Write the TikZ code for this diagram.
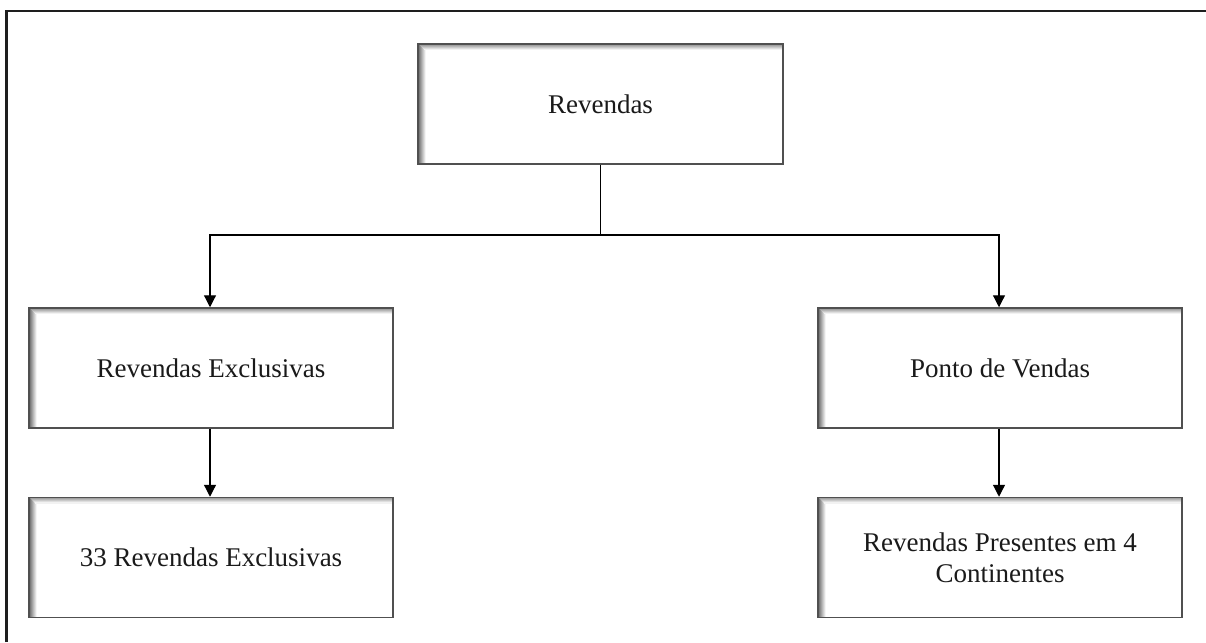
\documentclass[tikz,border=0pt]{standalone}
\usepackage{fontspec}
\setmainfont{Liberation Serif}
\usetikzlibrary{arrows.meta}

\definecolor{framecol}{HTML}{1E1E1E}
\definecolor{boxline}{HTML}{505050}
\definecolor{inkcol}{HTML}{1A1A1A}

\tikzset{
  orgbox/.style={
    draw=boxline, line width=1.5pt, fill=white,
    minimum width=364pt, minimum height=120pt, inner sep=0pt,
    align=center, text=inkcol,
    font=\fontsize{27}{31}\selectfont,
    % soft inset shadow along the left and top inner edges
    path picture={
      \foreach \k in {0,...,7}{
        \pgfmathsetmacro{\shadeamt}{60-\k*8}
        \draw[draw=black!\shadeamt, line width=1.05pt]
          ([xshift=\k pt+0.5pt]path picture bounding box.north west) --
          ([xshift=\k pt+0.5pt]path picture bounding box.south west);
      }
      \foreach \k in {0,...,5}{
        \pgfmathsetmacro{\shadeamt}{45-\k*8}
        \draw[draw=black!\shadeamt, line width=1.05pt]
          ([xshift=\k pt+0.5pt,yshift=-\k pt-0.5pt]path picture bounding box.north west) --
          ([yshift=-\k pt-0.5pt]path picture bounding box.north east);
      }
    }
  },
  link/.style={draw=black, line width=1.2pt},
  linkarrow/.style={link, -{Triangle[width=12pt,length=12pt]}}
}

\begin{document}
\begin{tikzpicture}[x=1pt,y=-1pt]
  \useasboundingbox (0,0) rectangle (1206,642);
  \fill[white] (0,0) rectangle (1206,642);

  % page frame: only top and left edges are visible
  \draw[framecol, line width=2.2pt] (6.5,642) -- (6.5,11) -- (1206,11);

  % boxes
  \node[orgbox, minimum width=365pt] (top) at (600.5,104) {Revendas};
  \node[orgbox] (lm) at (211,368) {Revendas Exclusivas};
  \node[orgbox] (rm) at (1000,368) {Ponto de Vendas};
  \node[orgbox] (lb) at (211,557.5) {33 Revendas Exclusivas};
  \node[orgbox] (rb) at (1000,557.5) {Revendas Presentes em 4\\Continentes};

  % connectors
  \coordinate (split) at (600.5,235);
  \draw[link] (top.south) -- (split);
  \draw[linkarrow] (split) -| ([xshift=-1pt]lm.north);
  \draw[linkarrow] (split) -| ([xshift=-1pt]rm.north);
  \draw[linkarrow] ([xshift=-1pt]lm.south) -- ([xshift=-1pt]lb.north);
  \draw[linkarrow] ([xshift=-1pt]rm.south) -- ([xshift=-1pt]rb.north);
\end{tikzpicture}
\end{document}
